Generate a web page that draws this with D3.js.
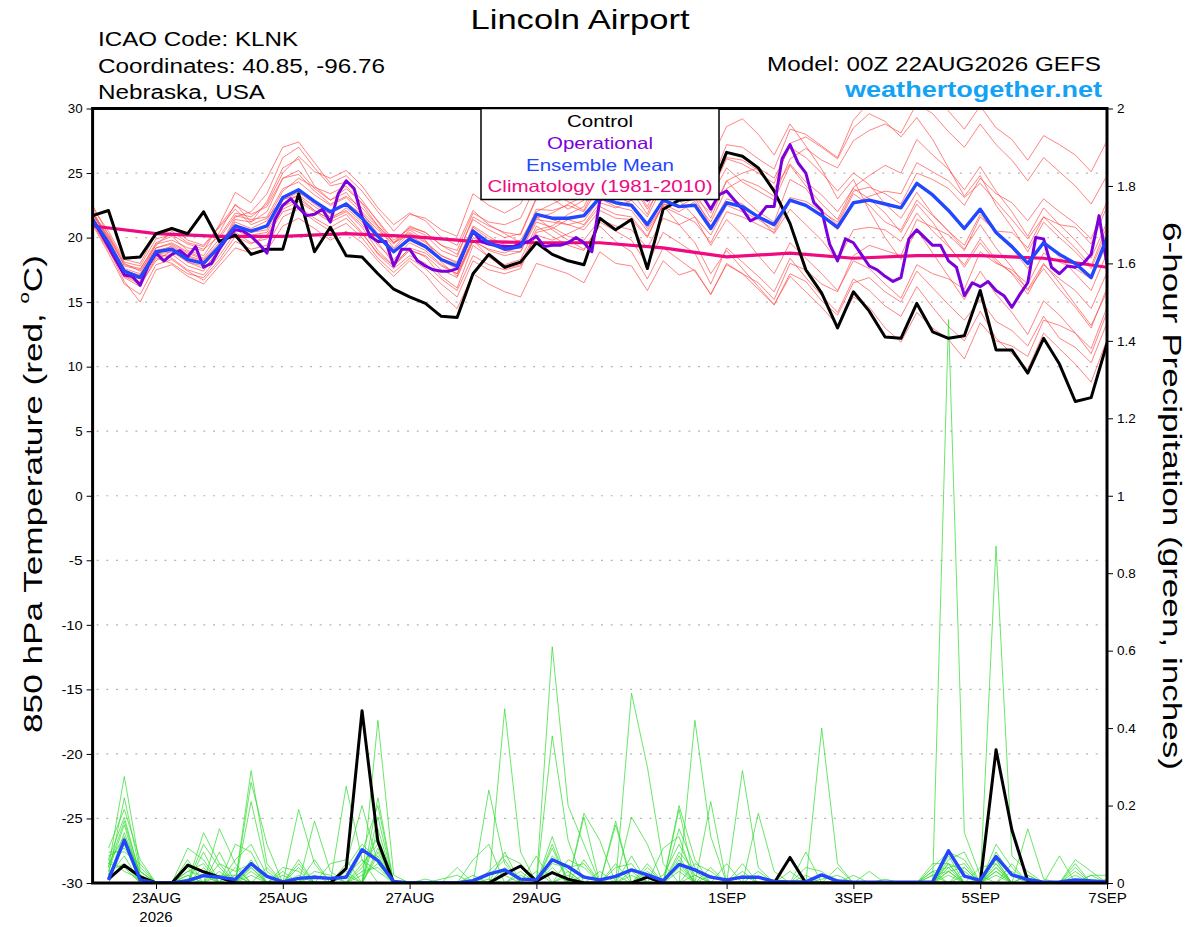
<!DOCTYPE html>
<html>
<head>
<meta charset="utf-8">
<script src="https://cdn.jsdelivr.net/npm/d3@7"></script>
<style>
  body { margin: 0; background: #fff; }
  svg text { font-family: "Liberation Sans", Arial, Helvetica, sans-serif; }
</style>
</head>
<body>
<svg id="chart" width="1200" height="927"></svg>
<script>
/* ── Run / time axis ─────────────────────────────────────── */
const RUN_START  = "2026-08-22T00:00:00Z";
const RUN_END    = "2026-09-07T00:00:00Z";
const DATE_TICKS = ["2026-08-23","2026-08-25","2026-08-27","2026-08-29",
                    "2026-09-01","2026-09-03","2026-09-05","2026-09-07"];
const TEMP_TICKS   = [-30,-25,-20,-15,-10,-5,0,5,10,15,20,25,30];
const PRECIP_TICKS = [0,0.2,0.4,0.6,0.8,1,1.2,1.4,1.6,1.8,2];

/* ── 850 hPa temperature, 6-hourly from 00Z (°C) ─────────── */
const controlTemp = [
  21.7,22.1,18.4,18.5,20.3,20.7,20.3,22.0, 19.7,20.2,18.7,19.1,19.1,23.4,18.9,20.8,
  18.6,18.5,17.2,16.0,15.4,14.9,13.9,13.8, 17.2,18.7,17.7,18.1,19.6,18.7,18.2,17.9,
  21.5,20.6,21.4,17.6,22.2,22.9,23.0,23.6, 26.6,26.3,25.4,23.6,21.1,17.5,15.7,13.0,
  15.8,14.3,12.3,12.2,14.9,12.7,12.2,12.4, 15.9,11.3,11.3,9.5,12.2,10.2,7.3,7.6,
  11.8];
const meanTemp = [
  21.4,19.6,17.4,16.9,18.9,19.1,18.3,18.0, 19.3,20.9,20.5,20.9,23.1,23.7,22.8,22.0,
  22.6,21.5,20.1,18.9,19.9,19.3,18.3,17.8, 20.5,19.6,19.1,19.3,21.8,21.5,21.5,21.7,
  23.1,22.7,22.5,21.0,22.9,22.4,22.5,20.7, 22.7,22.4,21.6,21.0,22.9,22.5,21.7,20.8,
  22.7,22.9,22.6,22.3,24.2,23.3,22.1,20.7, 22.2,20.4,19.3,18.0,19.6,18.7,18.0,16.9,
  20.0];
/* operational run is 3-hourly */
const operTemp = [
  21.4,20.4,19.3,18.2,17.1,17.0,16.3,17.8, 18.8,18.2,18.7,19.0,18.5,19.3,17.7,18.0,
  19.1,20.0,20.6,20.5,20.1,19.5,18.8,21.4, 22.5,23.0,22.3,21.7,21.8,22.2,21.2,23.4,
  24.4,23.8,21.6,20.1,19.7,19.7,17.8,19.1, 19.1,18.2,17.8,17.5,17.4,17.4,17.6,19.1,
  20.5,19.7,19.5,19.4,19.3,19.3,19.5,19.7, 20.1,19.3,19.4,19.4,19.6,20.0,19.6,18.9,
  22.9,23.2,23.5,23.3,23.0,23.2,22.9,23.2, 23.0,23.1,23.0,23.3,23.2,23.2,22.2,23.3,
  23.6,22.9,22.2,21.3,21.6,22.4,22.4,26.1, 27.2,25.8,25.0,22.7,22.1,19.5,18.2,19.9,
  19.6,18.7,17.8,17.5,17.0,16.6,16.9,19.9, 20.6,20.0,19.4,19.4,18.2,17.7,15.5,16.5,
  16.2,16.6,15.9,15.5,14.6,15.6,16.5,20.0, 19.9,17.7,17.2,17.8,17.7,18.0,18.7,21.7,
  17.9];
/* climatology, daily at 00Z */
const climTemp = [20.9,20.3,20.1,20.1,20.3,20.1,19.7,19.6,19.6,19.2,18.5,18.8,18.4,18.6,18.6,18.4,17.7];

const memberTemp = [
  [22.5,20.2,17.8,17.5,19.6,20.1,19.0,18.6, 20.4,22.6,21.2,22.8,25.4,26.1,24.0,22.9, 23.5,22.0,20.8,19.2,20.6,19.8,18.1,17.0, 19.8,18.5,17.9,18.3,20.9,20.1,19.4,19.0, 21.2,20.5,19.8,17.9,20.4,19.6,18.8,16.4, 19.2,18.1,17.0,15.8,18.4,16.9,15.5,14.2, 16.8,15.9,14.7,13.9,16.2,14.6,13.1,12.0, 14.3,12.2,11.0,9.8,12.6,11.4,10.2,8.8, 12.1],
  [21.9,19.9,17.6,17.2,19.5,19.8,19.2,19.0, 21.0,23.5,22.7,24.6,27.0,27.4,25.8,24.2, 24.8,23.6,22.0,20.5,21.8,21.5,20.6,20.1, 23.4,22.5,21.9,22.6,25.1,24.8,24.0,24.6, 26.3,25.4,25.1,23.2,26.0,25.8,26.4,24.1, 27.2,27.0,26.1,25.3,28.4,28.0,27.1,26.2, 29.1,30.5,31.0,30.2,32.0,31.4,29.8,28.4, 30.2,28.5,27.6,26.0,27.9,27.2,26.4,25.1, 27.5],
  [21.2,19.1,16.6,15.0,17.5,17.9,17.0,16.4, 17.8,19.2,18.8,19.0,20.9,21.5,20.7,19.8, 20.5,19.6,18.2,17.0,18.2,17.1,15.6,14.5, 17.2,16.4,15.8,15.4,18.0,17.6,17.2,16.5, 18.9,18.0,17.8,15.9,18.2,17.1,17.5,15.6, 17.9,17.2,16.0,14.8,17.2,16.6,15.1,14.0, 16.5,16.9,15.8,15.0,17.4,16.1,14.8,13.6, 15.2,13.5,12.8,11.6,13.9,12.2,11.5,10.3, 13.4],
  [21.6,19.4,17.0,16.4,18.2,19.0,18.1,17.6, 19.0,21.4,21.2,22.0,24.6,25.2,23.8,22.9, 23.8,22.7,21.3,19.8,20.7,20.2,19.0,18.5, 21.6,20.9,20.4,20.2,23.0,23.4,22.8,22.1, 24.6,24.0,23.6,21.8,24.9,24.3,23.5,21.5, 24.4,23.1,22.0,21.2,24.5,23.8,22.1,21.0, 23.4,22.5,21.2,20.6,22.9,21.7,20.5,19.4, 21.8,20.4,19.2,17.6,19.8,18.5,17.2,15.9, 18.8],
  [22.0,20.0,17.9,17.6,19.4,20.5,19.6,19.3, 20.8,22.2,21.0,21.5,23.0,23.2,22.1,21.4, 22.3,21.2,19.6,18.0,19.1,18.5,17.0,16.1, 19.4,18.5,17.6,17.9,20.6,20.9,21.8,22.4, 25.0,24.6,25.2,23.7,26.8,27.3,28.1,26.0, 28.6,29.2,28.0,26.4,28.8,27.1,25.3,23.0, 24.5,22.1,20.0,18.3,20.6,18.8,17.0,15.2, 17.4,15.6,14.2,12.5,15.1,14.0,12.6,11.0, 14.2],
  [21.3,19.2,16.9,16.2,18.4,18.0,17.2,16.9, 18.3,20.1,19.5,20.2,22.2,22.8,22.0,21.2, 21.8,20.4,18.7,17.6,18.6,18.0,16.8,15.9, 18.6,17.9,17.5,17.8,20.2,19.8,20.3,20.9, 22.4,21.8,21.6,20.1,22.6,22.0,22.8,21.2, 23.8,24.5,24.0,23.2,26.1,26.9,26.0,25.4, 27.5,28.3,28.8,28.1,30.4,29.6,28.2,27.0, 28.8,27.2,26.0,24.4,26.2,25.1,24.0,22.6, 24.8],
  [21.8,20.3,18.1,17.8,19.9,20.2,19.5,19.1, 20.1,21.9,21.6,22.6,25.0,26.3,25.1,24.6, 25.2,24.0,22.3,21.0,21.9,21.3,20.0,19.4, 22.1,21.0,20.3,19.6,21.6,20.6,19.8,19.1, 20.9,19.7,18.9,16.8,19.2,18.3,17.4,15.6, 18.0,17.2,16.5,15.2,18.0,17.5,16.4,15.8, 18.6,19.4,19.0,18.6,21.4,20.8,20.2,19.0, 21.6,20.5,20.4,19.2,21.6,21.0,20.8,19.5, 22.4],
  [21.1,19.0,17.0,16.6,18.8,18.4,17.5,17.1, 18.6,20.4,19.6,19.9,22.4,23.0,22.1,21.4, 22.0,20.8,19.0,17.8,19.0,18.6,17.5,16.9, 19.7,19.1,18.8,19.4,22.0,22.6,23.2,23.7, 25.8,25.0,24.2,22.2,24.0,22.9,21.6,19.4, 21.4,20.2,18.6,17.2,19.6,18.4,17.2,15.9, 18.2,17.6,16.4,15.3,17.9,17.2,16.8,16.0, 18.9,18.0,17.5,16.4,18.8,18.1,17.6,16.8, 19.5],
  [22.3,20.5,18.3,18.0,20.3,20.8,19.8,19.4, 20.9,22.5,21.8,22.4,24.6,24.9,23.6,22.6, 23.2,22.3,20.9,19.6,20.9,20.4,19.4,19.0, 21.9,21.2,21.0,21.5,24.1,23.9,23.5,23.8, 25.6,24.8,24.5,22.8,25.2,24.6,25.1,23.4, 26.1,25.7,25.0,24.2,27.3,27.8,27.0,26.1, 28.5,29.6,29.0,27.8,29.3,27.6,25.4,23.2, 24.8,22.5,20.8,18.9,21.2,20.0,18.9,17.6, 20.5],
  [21.5,19.5,17.2,16.5,18.5,18.7,17.8,17.4, 19.2,21.6,22.0,23.4,26.2,27.0,25.4,24.0, 24.3,22.9,21.2,19.6,20.2,19.4,18.2,17.6, 20.3,19.6,19.0,18.9,21.2,20.8,20.1,19.8, 21.4,20.9,20.6,19.2,21.5,21.0,21.6,20.2, 22.5,22.0,21.4,20.6,23.1,22.8,22.0,21.2, 23.6,23.9,23.4,22.6,25.0,24.5,23.8,22.5, 24.6,23.4,22.7,21.3,23.0,22.0,21.1,19.9, 22.8],
  [21.4,19.3,17.1,16.8,18.6,19.4,18.6,18.2, 19.5,20.8,20.2,20.4,22.6,23.3,22.4,21.6, 22.1,21.0,19.4,18.3,19.6,19.0,17.9,17.2, 20.0,19.4,19.1,19.5,22.2,22.1,22.5,22.0, 24.0,23.3,22.6,20.7,22.5,21.0,19.6,17.2, 19.0,17.6,16.2,14.8,17.0,15.8,14.6,13.2, 15.4,14.6,13.0,11.9,14.2,13.0,12.1,10.6, 13.4,12.0,11.6,10.8,13.6,13.2,12.6,11.4, 14.6],
  [22.1,19.8,17.4,17.1,19.2,19.5,18.8,18.3, 19.6,21.0,20.4,20.6,22.9,23.5,22.6,21.8, 22.7,21.8,20.6,19.5,20.8,20.4,19.4,18.7, 21.4,20.6,20.0,20.3,23.1,23.0,22.2,22.9, 24.8,24.4,24.9,23.6,26.4,26.0,25.2,23.2, 25.4,24.3,23.6,22.9,25.6,24.0,22.6,21.4, 23.9,24.8,25.6,25.0,27.6,26.4,25.3,23.7, 25.5,23.6,22.0,20.1,22.3,21.0,19.8,18.4, 21.2],
  [21.0,18.8,16.4,15.6,17.9,18.3,17.4,16.7, 18.1,19.7,19.1,19.4,21.6,22.2,21.3,20.5, 21.1,20.0,18.4,17.3,18.4,17.6,16.4,15.4, 18.2,17.5,17.2,17.6,20.4,20.7,21.4,21.0, 22.7,22.3,22.9,21.6,24.1,24.5,25.3,23.9, 26.2,26.0,25.2,23.8,25.7,24.3,23.3,22.0, 23.8,23.0,21.9,20.4,22.6,21.2,19.4,17.7, 19.6,18.1,17.3,16.0,18.0,16.5,14.8,13.2, 15.8],
  [21.7,20.1,18.0,17.4,19.2,19.6,18.9,18.4, 19.9,21.7,21.4,21.6,23.8,24.3,23.3,22.5, 23.1,21.9,20.3,19.1,20.3,19.6,18.6,18.1, 20.9,20.1,19.4,19.2,21.4,21.2,21.0,21.3, 23.0,22.4,22.1,20.5,22.4,21.8,21.2,19.6, 22.0,21.6,21.0,20.4,22.8,22.5,21.8,20.6, 22.6,23.2,23.6,23.4,25.8,25.1,24.4,23.1, 24.2,22.8,21.4,19.9,21.6,20.4,19.2,17.8, 20.9],
  [21.2,19.4,17.3,16.9,18.7,18.9,18.1,17.8, 19.4,21.2,20.7,21.3,23.6,24.6,23.9,23.4, 24.0,22.6,20.9,19.6,20.4,19.7,18.6,18.0, 20.8,19.9,19.5,19.8,21.9,21.4,21.0,20.6, 22.1,21.5,21.4,20.0,22.6,22.4,23.1,21.9, 24.4,25.0,25.4,24.6,27.0,26.2,25.0,23.6, 25.0,24.1,22.6,21.5,23.5,21.8,20.5,19.1, 21.0,19.2,17.7,15.9,17.6,16.0,14.6,13.0, 16.1],
  [21.9,19.7,17.5,17.0,19.0,19.3,18.5,18.1, 19.3,20.6,20.0,20.1,22.0,22.4,21.5,20.8, 21.5,20.3,18.8,17.8,19.2,18.8,17.8,17.2, 19.8,19.0,18.6,18.9,21.5,21.9,22.6,23.2, 25.2,24.5,24.3,22.4,24.9,24.0,23.1,20.9, 23.0,22.6,21.6,20.3,22.2,21.0,19.8,18.2, 20.6,20.8,20.6,19.7,21.9,20.5,19.3,17.9, 19.9,18.3,17.2,15.6,17.9,16.8,15.9,14.5, 17.3]
];

/* ── 6-hour precipitation, first value valid 06Z (inches) ── */
const controlPrecip = [
  .01,.046,.016,0,0,.046,.029,.015,0,0,0,0,0,0,0,.038,
  .445,.107,0,0,0,0,0,0,0,.023,.044,.005,.027,.01,0,0,
  0,0,.015,0,0,0,0,0,0,0,0,.066,0,0,0,0,
  0,0,0,0,0,0,0,0,.344,.137,.005,0,0,0,0,0];
const meanPrecip = [
  .008,.111,.008,0,0,.006,.019,.015,.009,.05,.017,.003,.012,.015,.012,.015,
  .086,.058,.004,0,0,0,0,.006,.023,.034,.01,.008,.06,.042,.015,.008,
  .017,.034,.021,.006,.048,.034,.015,.008,.015,.015,.004,.003,.003,.021,.005,.002,
  .002,.002,.002,.002,.003,.083,.018,.007,.068,.021,.009,.002,.003,.008,.005,.003];

const memberPrecip = [
  [.04,.275,.04,0,0,.03,.05,0,0,.29,.05,0,0,0,0,.05, .2,.05,0,0,0,0,0,0,.24,.05,0,0,.1,0,0,0, 0,.49,.3,.05,0,0,0,0,.03,0,0,0,0,0,0,0, 0,0,0,0,0,1.455,.13,.02,0,0,0,0,0,.05,0,0],
  [.02,.22,.03,0,0,0,.13,.05,0,.26,.1,0,.05,0,0,0, 0,.42,.02,0,0,0,0,0,0,.45,.08,0,0,0,.17,0, .15,0,0,0,.2,.06,0,0,0,0,0,0,0,.4,.05,0, 0,0,0,0,0,0,0,0,.87,.07,.03,0,0,0,0,0],
  [.09,.19,.06,0,0,.06,0,.14,.05,0,0,0,.19,.05,0,.25, .06,0,0,0,0,0,0,0,0,0,0,0,.61,.2,.1,0, 0,0,0,0,0,.42,.12,0,0,0,0,0,0,0,0,0, 0,0,0,0,.04,.08,.06,0,0,0,.14,.01,0,0,0,0],
  [.06,.17,.02,0,0,.09,.06,0,0,.21,.03,0,0,.16,.03,0, 0,.22,0,0,0,0,0,.06,.1,0,0,0,.38,.11,0,0, 0,.17,.1,0,0,0,0,0,.29,.04,0,0,0,0,0,0, 0,0,0,0,0,.06,.08,0,.1,.04,0,0,0,0,0,0],
  [.03,.15,.01,0,0,0,.08,0,.1,.08,0,.03,0,0,0,0, .08,.2,0,0,0,0,.04,0,0,.08,0,.07,0,0,.18,.11, 0,0,0,0,.19,0,.21,0,0,.18,.03,0,0,0,0,0, 0,0,0,0,0,.05,0,0,.06,0,0,0,.07,0,0,0],
  [.05,.12,.03,0,0,.04,0,.05,.03,.05,0,0,.06,0,.05,.06, 0,.17,0,0,0,0,0,0,.03,.07,.05,0,.12,0,0,0, .16,0,0,.09,.12,0,0,.05,0,0,0,0,.08,0,.04,0, 0,0,0,0,0,.04,0,.04,.05,0,0,0,0,.06,.03,0],
  [.02,.1,.02,0,0,0,.1,.04,0,0,.04,0,0,.06,0,0, .05,.1,0,0,0,0,0,0,0,0,0,0,.05,.04,.05,0, 0,0,.04,0,.14,.04,0,0,0,0,0,.03,0,0,0,0, .03,0,0,0,.05,.05,.03,0,0,.03,0,0,0,0,.02,.02],
  [.08,.08,.05,0,0,.05,.03,0,.04,0,0,.04,.03,0,0,.04, .1,.06,0,0,0,0,0,0,0,.03,.04,0,0,0,0,.03, 0,.07,0,0,.08,.03,0,0,.05,0,0,0,0,0,0,.02, 0,.01,0,0,.03,.04,.05,0,.04,0,0,0,0,.04,0,0],
  [.03,.05,0,0,0,.02,0,.08,0,.03,0,0,0,.03,.02,0, .04,.12,0,0,0,0,0,.02,0,0,0,0,.07,.03,0,0, .05,0,0,0,.06,0,.04,0,0,0,0,0,.04,.03,0,0, 0,0,0,0,.02,.03,0,0,.03,0,.02,0,0,0,.01,0],
  [.06,.03,.01,0,0,0,.04,0,.06,.1,.02,0,0,0,0,.03, 0,.08,0,0,.01,0,0,0,0,.04,0,.03,0,.06,.04,0, 0,0,.05,0,.05,0,0,0,0,.03,0,0,0,.02,0,0, 0,0,0,0,0,.03,.04,0,.08,.02,0,0,0,0,0,0],
  [.01,.13,.02,0,0,0,0,.03,0,.04,0,.02,0,0,0,0, .03,.04,0,0,0,.01,.02,0,0,0,.03,0,.09,0,.06,0, 0,.03,0,.02,.1,.02,0,0,0,0,0,0,0,.01,.02,0, 0,0,0,0,.03,0,.02,0,.05,0,0,0,0,.03,0,0],
  [.04,.16,.02,0,0,.03,.02,0,.02,0,0,0,.02,0,0,.02, .06,.03,0,0,0,0,0,0,.02,.06,0,0,0,.02,0,0, .04,.05,0,0,0,.05,.03,0,0,0,0,0,.02,0,0,0, 0,0,0,0,0,.02,0,0,.04,0,.02,0,0,0,0,.01],
  [.02,.07,0,0,0,.02,0,0,0,.06,0,0,.04,0,0,0, 0,.09,0,0,0,0,0,0,0,.02,0,0,.04,0,0,0, 0,0,0,0,.07,0,0,0,.02,0,0,0,0,0,0,0, 0,0,0,0,0,.07,0,0,.02,0,0,0,0,0,0,0],
  [.07,.09,.03,0,0,0,.02,0,0,.04,0,0,0,0,0,0, .02,.05,0,0,0,0,0,0,0,0,0,0,0,0,.02,0, 0,0,.03,0,.03,0,0,0,0,0,0,0,0,0,0,0, 0,0,0,0,.02,0,.04,0,0,.05,0,0,0,.02,0,0],
  [0,.11,.01,0,0,0,0,.02,.02,0,0,0,0,0,0,.02, 0,.07,0,0,0,0,0,0,.01,0,0,0,0,.03,0,0, .02,0,0,0,0,.02,0,0,0,0,0,0,0,.02,0,0, 0,0,0,0,0,.05,0,0,.03,0,0,0,0,0,.02,0],
  [.05,.04,0,0,0,.01,0,0,0,.02,0,0,0,.02,0,0, 0,.14,0,0,0,0,0,0,0,0,.02,0,.03,0,0,0, 0,.02,0,0,.04,0,.02,0,0,0,0,0,0,0,0,0, 0,0,0,0,0,.03,0,.01,.06,0,0,0,0,0,0,0]
];

/* ── Colours ─────────────────────────────────────────────── */
const C_MEMBER_T = "#ff4a4a";
const C_MEMBER_P = "#2fdc2f";
const C_CONTROL  = "#000000";
const C_OPER     = "#7b00dc";
const C_MEAN     = "#2346ff";
const C_CLIM     = "#ee0a80";
const C_SITE     = "#14a2f5";

/* ── Layout ──────────────────────────────────────────────── */
const PLOT = { left: 92.6, right: 1107, top: 108.5, bottom: 883 };

const svg = d3.select("#chart");
const t0  = new Date(RUN_START);
const hr  = h => new Date(t0.getTime() + h * 3600e3);

const x  = d3.scaleUtc().domain([t0, new Date(RUN_END)]).range([PLOT.left, PLOT.right]);
const yT = d3.scaleLinear().domain([-30, 30]).range([PLOT.bottom, PLOT.top]);
const yP = d3.scaleLinear().domain([0, 2]).range([PLOT.bottom, PLOT.top]);

svg.append("rect").attr("width", 1200).attr("height", 927).attr("fill", "#fff");

svg.append("defs").append("clipPath").attr("id", "plot-clip")
  .append("rect")
  .attr("x", PLOT.left).attr("y", PLOT.top)
  .attr("width", PLOT.right - PLOT.left).attr("height", PLOT.bottom - PLOT.top);

/* dotted grid on the temperature axis */
svg.append("g").selectAll("line")
  .data(TEMP_TICKS.filter(v => v > -30 && v < 30))
  .join("line")
  .attr("x1", PLOT.left + 4).attr("x2", PLOT.right)
  .attr("y1", d => yT(d)).attr("y2", d => yT(d))
  .attr("stroke", "#b4b4b4").attr("stroke-width", 1.2)
  .attr("stroke-dasharray", "2,7.7");

/* line builders: step = hours between points, offset = hour of first point */
const tempLine = (step, offset = 0) => d3.line()
  .x((d, i) => x(hr(offset + i * step))).y(d => yT(d));
const precipLine = (step, offset) => d3.line()
  .x((d, i) => x(hr(offset + i * step))).y(d => yP(d));

const plot = svg.append("g").attr("clip-path", "url(#plot-clip)");

/* ensemble members */
plot.append("g").selectAll("path").data(memberTemp).join("path")
  .attr("d", tempLine(6)).attr("fill", "none")
  .attr("stroke", C_MEMBER_T).attr("stroke-width", 0.8).attr("opacity", 0.85);

plot.append("g").selectAll("path").data(memberPrecip).join("path")
  .attr("d", precipLine(6, 6)).attr("fill", "none")
  .attr("stroke", C_MEMBER_P).attr("stroke-width", 0.8).attr("opacity", 0.9);

/* climatology */
plot.append("path").datum(climTemp).attr("d", tempLine(24)).attr("fill", "none")
  .attr("stroke", C_CLIM).attr("stroke-width", 3.2);

/* control */
plot.append("path").datum(controlTemp).attr("d", tempLine(6)).attr("fill", "none")
  .attr("stroke", C_CONTROL).attr("stroke-width", 3).attr("stroke-linejoin", "round");
plot.append("path").datum(controlPrecip).attr("d", precipLine(6, 6)).attr("fill", "none")
  .attr("stroke", C_CONTROL).attr("stroke-width", 3).attr("stroke-linejoin", "round");

/* operational */
plot.append("path").datum(operTemp).attr("d", tempLine(3)).attr("fill", "none")
  .attr("stroke", C_OPER).attr("stroke-width", 3).attr("stroke-linejoin", "round");

/* ensemble mean */
plot.append("path").datum(meanTemp).attr("d", tempLine(6)).attr("fill", "none")
  .attr("stroke", C_MEAN).attr("stroke-width", 3.4).attr("stroke-linejoin", "round");
plot.append("path").datum(meanPrecip).attr("d", precipLine(6, 6)).attr("fill", "none")
  .attr("stroke", C_MEAN).attr("stroke-width", 3.4).attr("stroke-linejoin", "round");

/* ── Axes ────────────────────────────────────────────────── */
const axisFont = g => g.selectAll("text")
  .attr("font-family", '"Liberation Sans", Arial, sans-serif').attr("fill", "#000");

const leftAx = svg.append("g").attr("transform", `translate(${PLOT.left},0)`)
  .call(d3.axisLeft(yT).tickValues(TEMP_TICKS).tickSize(6).tickPadding(4)
    .tickFormat(d => d));
leftAx.select(".domain").remove();
leftAx.selectAll("text").attr("font-size", 13.5).attr("textLength", d => String(d).length * 7.4 + (d < 0 ? -1 : 0))
  .attr("lengthAdjust", "spacingAndGlyphs");
axisFont(leftAx);

const rightAx = svg.append("g").attr("transform", `translate(${PLOT.right},0)`)
  .call(d3.axisRight(yP).tickValues(PRECIP_TICKS).tickSize(6).tickPadding(4)
    .tickFormat(d => String(+d.toFixed(1))));
rightAx.select(".domain").remove();
rightAx.selectAll("text").attr("font-size", 13.5);
axisFont(rightAx);

const dateFmt = d3.utcFormat("%-d%b");
const bottomAx = svg.append("g").attr("transform", `translate(0,${PLOT.bottom})`)
  .call(d3.axisBottom(x).tickValues(DATE_TICKS.map(s => new Date(s + "T00:00:00Z")))
    .tickSize(6).tickPadding(3).tickFormat(d => dateFmt(d).toUpperCase()));
bottomAx.select(".domain").remove();
bottomAx.selectAll("text").attr("font-size", 15);
axisFont(bottomAx);
bottomAx.append("text")
  .attr("x", x(new Date(DATE_TICKS[0] + "T00:00:00Z"))).attr("y", 38.5)
  .attr("text-anchor", "middle").attr("font-size", 15).attr("fill", "#000")
  .text(DATE_TICKS[0].slice(0, 4));

/* heavy frame */
svg.append("rect")
  .attr("x", PLOT.left).attr("y", PLOT.top)
  .attr("width", PLOT.right - PLOT.left).attr("height", PLOT.bottom - PLOT.top)
  .attr("fill", "none").attr("stroke", "#000").attr("stroke-width", 3);

/* ── Legend ──────────────────────────────────────────────── */
const legend = svg.append("g");
legend.append("rect")
  .attr("x", 481).attr("y", PLOT.top).attr("width", 238).attr("height", 91)
  .attr("fill", "#fff").attr("stroke", "#000").attr("stroke-width", 1.5);
[
  ["Control", C_CONTROL, 66],
  ["Operational", C_OPER, 106],
  ["Ensemble Mean", C_MEAN, 148],
  ["Climatology (1981-2010)", C_CLIM, 225]
].forEach(([label, color, w], i) => {
  legend.append("text")
    .attr("x", 600).attr("y", 127 + i * 21.8)
    .attr("text-anchor", "middle").attr("font-size", 16.5).attr("fill", color)
    .attr("textLength", w).attr("lengthAdjust", "spacingAndGlyphs")
    .text(label);
});

/* ── Titles / header ─────────────────────────────────────── */
function label(txt, opts) {
  const t = svg.append("text")
    .attr("x", opts.x).attr("y", opts.y)
    .attr("font-size", opts.size).attr("fill", opts.color || "#000")
    .attr("text-anchor", opts.anchor || "start")
    .attr("font-weight", opts.bold ? "bold" : "normal")
    .text(txt);
  if (opts.w) t.attr("textLength", opts.w).attr("lengthAdjust", "spacingAndGlyphs");
  return t;
}

label("Lincoln Airport", { x: 580, y: 29, size: 28, anchor: "middle", w: 219 });
label("ICAO Code: KLNK", { x: 98, y: 46, size: 19.5, w: 200 });
label("Coordinates: 40.85, -96.76", { x: 98, y: 72.5, size: 19.5, w: 287 });
label("Nebraska, USA", { x: 98, y: 99, size: 19.5, w: 167 });
label("Model: 00Z 22AUG2026 GEFS", { x: 1101, y: 71, size: 19.5, anchor: "end", w: 334 });
label("weathertogether.net", { x: 1102, y: 97, size: 22, anchor: "end", bold: true, color: C_SITE, w: 257 });

/* axis titles */
const yTitle = svg.append("text")
  .attr("transform", "translate(33,494) rotate(-90)")
  .attr("text-anchor", "middle").attr("dominant-baseline", "central")
  .attr("font-size", 26).attr("textLength", 478).attr("lengthAdjust", "spacingAndGlyphs");
yTitle.append("tspan").text("850 hPa Temperature (red, ");
yTitle.append("tspan").attr("font-size", 15).attr("dy", -10).text("o");
yTitle.append("tspan").attr("dy", 10).text("C)");

svg.append("text")
  .attr("transform", "translate(1172,496) rotate(90)")
  .attr("text-anchor", "middle").attr("dominant-baseline", "central")
  .attr("font-size", 26).attr("textLength", 548).attr("lengthAdjust", "spacingAndGlyphs")
  .text("6-hour Precipitation (green, inches)");
</script>
</body>
</html>
